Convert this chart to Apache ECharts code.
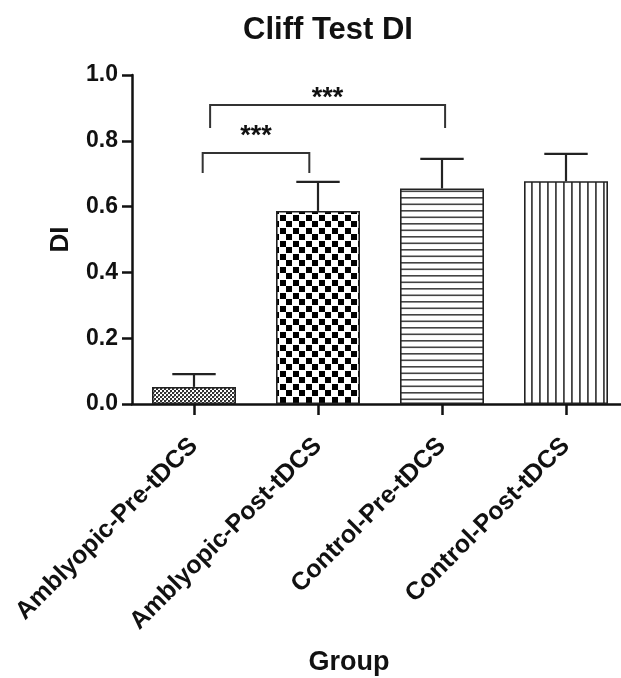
<!DOCTYPE html>
<html>
<head>
<meta charset="utf-8">
<script src="https://cdn.jsdelivr.net/npm/echarts@6/dist/echarts.min.js"></script>
<style>html,body{margin:0;padding:0;background:#fff}#c{width:621px;height:678px}</style>
</head>
<body>
<div id="c"></div>
<script>
// ---- data ----
const categories = ['Amblyopic-Pre-tDCS', 'Amblyopic-Post-tDCS', 'Control-Pre-tDCS', 'Control-Post-tDCS'];
const meanDI = [0.052, 0.587, 0.655, 0.677];
const semDI = [0.039, 0.088, 0.090, 0.083];
const yTicks = [0, 0.2, 0.4, 0.6, 0.8, 1.0];
// significance brackets
const bracketFrom = [0, 0];
const bracketTo = [1, 2];
const bracketTop = [0.763, 0.909];
const bracketLegBottom = [0.702, 0.839];
const bracketLabel = ['***', '***'];
const bracketLabelY = [0.828, 0.943];

// ---- patterns (style) ----
function makePattern(kind) {
  const c = document.createElement('canvas');
  const ctx = c.getContext('2d');
  if (kind === 'fine') {
    c.width = 4; c.height = 4;
    ctx.fillStyle = '#fff'; ctx.fillRect(0,0,4,4);
    ctx.fillStyle = '#333';
    ctx.fillRect(0,0,2,2); ctx.fillRect(2,2,2,2);
    ctx.fillStyle = '#999';
    ctx.fillRect(2,0,1,1);
  } else if (kind === 'checker') {
    c.width = 13; c.height = 13;
    ctx.fillStyle = '#fff'; ctx.fillRect(0,0,13,13);
    ctx.fillStyle = '#000';
    ctx.fillRect(0,0,6,6); ctx.fillRect(7,7,6,6);
  } else if (kind === 'hlines') {
    c.width = 4; c.height = 13;
    ctx.fillStyle = '#fff'; ctx.fillRect(0,0,4,13);
    ctx.fillStyle = '#444';
    ctx.fillRect(0,2,4,1.6); ctx.fillRect(0,8.5,4,1.6);
  } else {
    c.width = 8; c.height = 4;
    ctx.fillStyle = '#fff'; ctx.fillRect(0,0,8,4);
    ctx.fillStyle = '#444';
    ctx.fillRect(3,0,1.8,4);
  }
  return {image: c, repeat: 'repeat'};
}
const patterns = [makePattern('fine'), makePattern('checker'), makePattern('hlines'), makePattern('vlines')];

const FONT = '"Liberation Sans", Arial, sans-serif';
const chart = echarts.init(document.getElementById('c'), null, {renderer: 'canvas'});

const option = {
  animation: false,
  backgroundColor: '#fff',
  grid: {left: 132, top: 75, width: 496, height: 329, containLabel: false, outerBoundsMode: 'none'},
  xAxis: {
    type: 'category',
    data: categories,
    axisLine: {lineStyle: {color: '#111', width: 2.5}},
    axisTick: {show: true, alignWithLabel: true, length: 11, lineStyle: {color: '#111', width: 2.5}},
    axisLabel: {rotate: 45, interval: 0, margin: 38, color: '#111', fontFamily: FONT, fontWeight: 'bold', fontSize: 25}
  },
  yAxis: {
    type: 'value',
    min: 0, max: 1, interval: 0.2,
    name: 'DI',
    nameLocation: 'middle',
    nameGap: 58,
    nameTextStyle: {color: '#111', fontFamily: FONT, fontWeight: 'bold', fontSize: 26},
    axisLine: {show: true, lineStyle: {color: '#111', width: 2.5}},
    axisTick: {show: true, length: 10, lineStyle: {color: '#111', width: 2.5}},
    splitLine: {show: false},
    axisLabel: {margin: 14, color: '#111', fontFamily: FONT, fontWeight: 'bold', fontSize: 23,
      formatter: v => v.toFixed(1)}
  },
  graphic: [
    {type: 'text', x: 328, y: 30, style: {text: 'Cliff Test DI', fill: '#111', font: 'bold 31px ' + FONT, textAlign: 'center', textVerticalAlign: 'middle'}},
    {type: 'text', x: 349, y: 663, style: {text: 'Group', fill: '#111', font: 'bold 27px ' + FONT, textAlign: 'center', textVerticalAlign: 'middle'}}
  ],
  series: [
    {
      type: 'bar',
      barWidth: 84,
      data: meanDI.map((v, i) => ({value: v, itemStyle: {color: patterns[i], borderColor: '#222', borderWidth: 1.6}})),
      z: 2
    },
    {
      type: 'custom',
      z: 3,
      data: meanDI.map((v, i) => [i, v, v + semDI[i]]),
      renderItem: function (params, api) {
        const x = api.value(0);
        const p0 = api.coord([x, api.value(1)]);
        const p1 = api.coord([x, api.value(2)]);
        const half = api.size([1, 0])[0] * 0.175;
        const st = {stroke: '#222', lineWidth: 2.2, fill: null};
        return {type: 'group', children: [
          {type: 'line', shape: {x1: p0[0], y1: p0[1], x2: p1[0], y2: p1[1]}, style: st},
          {type: 'line', shape: {x1: p1[0] - half, y1: p1[1], x2: p1[0] + half, y2: p1[1]}, style: st}
        ]};
      }
    },
    {
      type: 'custom',
      z: 4,
      data: bracketFrom.map((f, i) => [f, bracketTo[i], bracketTop[i], bracketLegBottom[i], bracketLabelY[i], i]),
      renderItem: function (params, api) {
        const band = api.size([1, 0])[0];
        const i = api.value(5);
        const offL = i === 0 ? 0.07 : 0.13;
        const offR = i === 0 ? -0.07 : 0.025;
        const a = api.coord([api.value(0), api.value(2)]);
        const b = api.coord([api.value(1), api.value(2)]);
        const bot = api.coord([api.value(0), api.value(3)]);
        const lab = api.coord([api.value(0), api.value(4)]);
        const xL = a[0] + band * offL, xR = b[0] + band * offR;
        return {type: 'group', children: [
          {type: 'polyline', shape: {points: [[xL, bot[1]], [xL, a[1]], [xR, a[1]], [xR, bot[1]]]},
            style: {stroke: '#333', lineWidth: 2, fill: null}},
          {type: 'text', x: (xL + xR) / 2, y: lab[1] + 5,
            style: {text: bracketLabel[i], fill: '#111', font: 'bold 27px ' + FONT, textAlign: 'center', textVerticalAlign: 'middle'}}
        ]};
      }
    }
  ]
};
chart.setOption(option);
</script>
</body>
</html>
